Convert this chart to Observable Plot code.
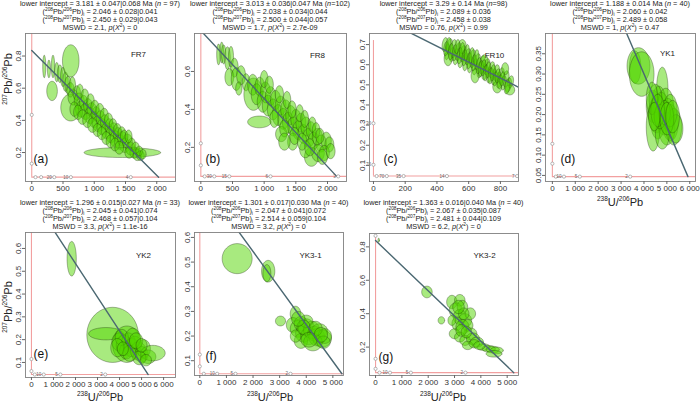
<!DOCTYPE html>
<html><head><meta charset="utf-8">
<script src="https://cdn.jsdelivr.net/npm/d3@7"></script>
<script src="https://cdn.jsdelivr.net/npm/@observablehq/plot@0.6"></script>
<style>
body{margin:0;background:#fff;}
#root{position:relative;width:700px;height:404px;overflow:hidden;font-family:"Liberation Sans",Arial,sans-serif;color:#222;}
.hdr{position:absolute;width:220px;text-align:center;font-size:7.3px;line-height:8.1px;white-space:nowrap;}
.hdr sup,.hdr sub{font-size:4.8px;line-height:0;}
.pl{position:absolute;}
.ttl{position:absolute;font-size:11px;white-space:nowrap;text-align:center;width:100px;}
.ttl sup{font-size:6.5px;line-height:0;}
.yt{transform:rotate(-90deg);}
</style></head><body><div id="root"></div>
<script>
// ---------- data ----------
const panelNames = ["FR7","FR8","FR10","YK1","YK2","YK3-1","YK3-2"];
const panelTags = ["(a)","(b)","(c)","(d)","(e)","(f)","(g)"];
const interceptText = ["3.181 ± 0.047|0.068","3.013 ± 0.036|0.047","3.29 ± 0.14","1.188 ± 0.014","1.296 ± 0.015|0.027","1.301 ± 0.017|0.030","1.363 ± 0.016|0.040"];
const nText = ["n = 97","n=102","n=98","n = 40","n = 33","n = 40","n = 40"];
const r86Text = ["2.046 ± 0.028|0.041","2.038 ± 0.034|0.044","2.089 ± 0.036","2.060 ± 0.042","2.045 ± 0.041|0.074","2.047 ± 0.041|0.072","2.067 ± 0.035|0.087"];
const r87Text = ["2.450 ± 0.029|0.043","2.500 ± 0.044|0.057","2.458 ± 0.038","2.489 ± 0.058","2.468 ± 0.057|0.104","2.514 ± 0.059|0.104","2.481 ± 0.044|0.109"];
const mswdText = ["2.1","1.7","0.76","1","3.3","3.2","6.2"];
const pText = ["0","2.7e-09","0.99","0.47","1.1e-16","0","0"];

const xDomains = [[-100,2300],[-100,2300],[-25,914],[-300,6250],[-270,6540],[-200,5400],[-230,5430]];
const yDomains = [[0.02,0.94],[0.02,0.80],[0.02,0.755],[0.035,0.40],[0.034,0.67],[0.04,0.62],[0.03,0.88]];
const xTicks = [[0,500,1000,1500,2000],[0,500,1000,1500,2000],[0,200,400,600,800],[0,1000,2000,3000,4000,5000,6000],[0,1000,2000,3000,4000,5000,6000],[0,1000,2000,3000,4000,5000],[0,1000,2000,3000,4000,5000]];
const yTicks = [[0.2,0.4,0.6,0.8],[0.2,0.4,0.6],[0.1,0.2,0.3,0.4,0.5,0.6,0.7],[0.05,0.10,0.15,0.20,0.25,0.30,0.35],[0.1,0.2,0.3,0.4,0.5,0.6],[0.1,0.2,0.3,0.4,0.5,0.6],[0.2,0.4,0.6,0.8]];

// regression line: y at x = 0 (upper intercept) and x at the concordia (lower intercept)
const upperIntercept = [0.835,0.815,0.850,0.828,0.829,0.840,0.838];
const lowerInterceptX = [2030,2145,2030,5920,5300,5340,5250];
// concordia (red) lines
const concordiaY = [0.047,0.047,0.047,0.047,0.047,0.047,0.047];
const concordiaTop = [0.94,0.80,0.72,0.40,0.67,0.62,0.866];
// age markers on concordia: [x, y, label]
const markersA = [[1584,0.047,"4"],[626,0.047,"10"],[360,0.047,"20"],[150,0.047,""],[60,0.047,""],[0,0.434,""],[0,0.131,""]];
const markersB = [[2169,0.047,"3"],[1100,0.047,"6"],[450,0.047,"15"],[212,0.047,"30"],[60,0.047,""],[0,0.221,""],[0,0.105,""]];
const markersC = [[905,0.047,"7"],[463,0.047,"14"],[190,0.047,"35"],[84,0.047,"70"],[20,0.047,""],[0,0.309,"30"],[0,0.103,"70"]];
const markersD = [[3398,0.047,"2"],[1200,0.047,"5"],[506,0.047,"10"],[150,0.047,""],[0,0.128,""],[0,0.079,""]];
const markersE = [[3352,0.047,"2"],[1314,0.047,"5"],[559,0.047,"10"],[150,0.047,""],[0,0.115,""],[0,0.062,""]];
const markersF = [[3408,0.047,"2"],[1340,0.047,"5"],[652,0.047,"10"],[150,0.047,""],[0,0.125,""],[0,0.077,""]];
const markersG = [[3416,0.047,"2"],[1342,0.047,"5"],[549,0.047,"10"],[150,0.047,""],[0,0.866,""],[0,0.13,""],[0,0.07,""]];

// error ellipses: [x, y, half-width x, half-height y, correlation]
const ellA = [
[200,0.735,25,0.070,0],[275,0.720,25,0.055,0],[340,0.735,27,0.070,0],[400,0.700,35,0.060,0],[450,0.690,40,0.055,0],
[500,0.670,40,0.060,0],[540,0.640,45,0.060,0],[580,0.620,50,0.055,0],[624,0.770,133,0.100,0],[325,0.583,85,0.060,0],
[624,0.480,160,0.084,0],
[620,0.590,60,0.045,0],[660,0.545,80,0.050,0],[720,0.570,60,0.045,0],[760,0.520,80,0.050,0],
[790,0.470,90,0.050,0],[830,0.510,70,0.045,0],[860,0.455,90,0.050,0],[900,0.490,70,0.045,0],[930,0.430,90,0.050,0],
[960,0.465,75,0.045,0],[1000,0.405,85,0.050,0],[1030,0.440,70,0.045,0],[1060,0.380,90,0.050,0],[1100,0.415,70,0.045,0],
[1130,0.360,85,0.050,0],[1170,0.390,70,0.045,0],[1200,0.335,90,0.050,0],[1240,0.365,70,0.045,0],[1270,0.310,85,0.050,0],
[1310,0.340,75,0.045,0],[1340,0.285,90,0.050,0],[1380,0.310,75,0.045,0],[1410,0.265,85,0.045,0],[1450,0.285,80,0.045,0],
[1490,0.245,85,0.045,0],[1530,0.270,80,0.045,0],[1450,0.200,613,0.031,0],[1580,0.225,75,0.040,0],[1640,0.200,70,0.035,0],
[1690,0.185,70,0.035,0],[1740,0.180,60,0.030,0],[1600,0.250,60,0.040,0],
[650,0.620,50,0.050,0],[680,0.470,70,0.045,0],[740,0.450,70,0.045,0],[770,0.580,55,0.045,0],[810,0.420,75,0.045,0],
[850,0.550,60,0.045,0],[890,0.400,75,0.045,0],[940,0.520,60,0.045,0],[970,0.370,75,0.045,0],[1010,0.480,65,0.045,0],
[1050,0.340,70,0.040,0],[1090,0.460,65,0.045,0],[1120,0.320,70,0.040,0],[1160,0.430,65,0.045,0],[1190,0.290,70,0.040,0],
[1230,0.400,65,0.045,0],[1260,0.270,70,0.040,0],[1300,0.370,60,0.040,0],[1330,0.250,70,0.040,0],[1370,0.340,60,0.040,0],
[1400,0.230,70,0.040,0],[1440,0.320,60,0.040,0],[1480,0.300,60,0.040,0],[1550,0.300,55,0.040,0],[1560,0.200,70,0.035,0],
[1660,0.230,60,0.035,0],[1720,0.210,55,0.030,0],[1780,0.190,50,0.030,0]];
const ellB = [
[280,0.690,30,0.055,0],[330,0.700,30,0.055,0],[360,0.690,35,0.050,0],[420,0.670,45,0.060,0],[476,0.677,40,0.055,0],
[530,0.620,60,0.050,0],[450,0.570,70,0.045,0],[560,0.560,80,0.060,0],[635,0.580,70,0.050,0],[714,0.543,60,0.045,0],
[600,0.510,50,0.035,0],[830,0.480,150,0.085,0],[924,0.334,185,0.031,0],
[820,0.530,80,0.055,0],[880,0.480,85,0.055,0],[930,0.520,75,0.050,0],[980,0.440,90,0.055,0],[1020,0.490,80,0.055,0],
[1060,0.420,90,0.055,0],[1100,0.470,80,0.050,0],[1140,0.400,90,0.055,0],[1180,0.450,80,0.050,0],[1220,0.370,90,0.055,0],
[1260,0.420,85,0.050,0],[1300,0.350,90,0.055,0],[1340,0.400,80,0.050,0],[1380,0.330,90,0.055,0],[1420,0.370,80,0.050,0],
[1460,0.310,90,0.050,0],[1500,0.350,80,0.050,0],[1540,0.290,90,0.050,0],[1580,0.330,80,0.050,0],[1620,0.270,90,0.050,0],
[1660,0.310,80,0.050,0],[1700,0.250,90,0.050,0],[1740,0.290,75,0.045,0],[1780,0.235,85,0.045,0],[1840,0.255,80,0.045,0],
[1900,0.220,85,0.045,0],[1980,0.235,80,0.045,0],[2030,0.215,70,0.040,0],
[1270,0.270,90,0.040,0],[1450,0.230,80,0.045,0],[1746,0.150,110,0.050,0],[1850,0.170,100,0.045,0],[1650,0.190,90,0.045,0],
[1950,0.170,80,0.040,0],
[1000,0.560,60,0.045,0],[1080,0.530,65,0.045,0],[1160,0.350,70,0.045,0],[1240,0.480,65,0.045,0],[1320,0.300,75,0.045,0],
[1360,0.450,60,0.045,0],[1440,0.400,65,0.045,0],[1480,0.260,75,0.045,0],[1560,0.380,60,0.045,0],[1600,0.230,75,0.045,0],
[1640,0.350,60,0.045,0],[1720,0.200,80,0.045,0],[1760,0.320,60,0.040,0],[1820,0.290,60,0.040,0],[1880,0.260,65,0.040,0],
[1920,0.150,80,0.040,0],[2050,0.180,70,0.040,0],[1320,0.230,90,0.045,0]];
const ellC = [
[450,0.700,18,0.035,0.3],[465,0.665,16,0.040,0.3],[480,0.690,18,0.040,0.3],[495,0.650,16,0.035,0.3],[505,0.680,20,0.045,0.3],
[520,0.640,18,0.040,0.3],[535,0.665,20,0.045,0.3],[550,0.625,18,0.040,0.3],[565,0.655,20,0.040,0.3],[580,0.615,18,0.045,0.3],
[595,0.640,20,0.040,0.3],[610,0.600,18,0.040,0.3],[625,0.630,20,0.045,0.3],[640,0.590,18,0.040,0.3],[655,0.615,20,0.040,0.3],
[670,0.575,18,0.040,0.3],[685,0.600,20,0.045,0.3],[700,0.565,18,0.040,0.3],[715,0.590,20,0.040,0.3],[730,0.550,18,0.040,0.3],
[745,0.575,20,0.040,0.3],[760,0.540,18,0.040,0.3],[775,0.560,20,0.040,0.3],[790,0.525,18,0.040,0.3],[805,0.545,20,0.040,0.3],
[820,0.510,18,0.035,0.3],[835,0.530,20,0.040,0.3],[850,0.500,20,0.035,0.3],[865,0.515,18,0.030,0.3],
[470,0.630,25,0.035,0],[560,0.690,25,0.035,0],[640,0.545,25,0.035,0],[700,0.620,22,0.030,0],[780,0.490,28,0.030,0],
[860,0.475,30,0.025,0],[830,0.580,22,0.030,0],
[458,0.680,16,0.035,0.3],[472,0.700,16,0.035,0.3],[488,0.665,16,0.040,0.3],[512,0.660,16,0.040,0.3],[528,0.690,16,0.035,0.3],
[543,0.645,16,0.040,0.3],[558,0.670,16,0.040,0.3],[573,0.635,16,0.040,0.3],[588,0.660,16,0.040,0.3],[603,0.620,16,0.040,0.3],
[618,0.645,16,0.040,0.3],[633,0.610,16,0.040,0.3],[648,0.635,16,0.040,0.3],[663,0.595,16,0.040,0.3],[678,0.580,16,0.040,0.3],
[693,0.585,16,0.040,0.3],[708,0.560,16,0.040,0.3],[723,0.575,16,0.040,0.3],[738,0.545,16,0.040,0.3],[753,0.560,16,0.040,0.3],
[768,0.530,16,0.035,0.3],[783,0.545,16,0.035,0.3],[798,0.515,16,0.035,0.3],[812,0.530,16,0.035,0.3],[842,0.490,18,0.035,0.3]];
const ellD = [
[3615,0.317,250,0.040,0],[3760,0.320,500,0.045,0],[3900,0.300,540,0.055,0],[4800,0.262,250,0.055,0],
[4400,0.220,300,0.040,0],[4550,0.200,350,0.045,0],[4650,0.230,300,0.040,0],[4750,0.210,350,0.045,0],[4850,0.190,300,0.040,0],
[4950,0.220,350,0.045,0],[5050,0.200,300,0.040,0],[5150,0.180,350,0.045,0],[4600,0.180,300,0.040,0],[4500,0.240,280,0.035,0],
[5000,0.165,350,0.040,0],[5300,0.170,350,0.045,0],[5400,0.165,300,0.035,0],[4400,0.170,300,0.060,0],[4350,0.240,250,0.040,0],
[4800,0.150,300,0.035,0],[5150,0.210,300,0.040,0],[4700,0.195,250,0.030,0],[4900,0.205,250,0.030,0],
[4600,0.210,300,0.040,0],[5000,0.190,300,0.040,0],[4450,0.195,250,0.035,0],[5250,0.195,300,0.040,0]];
const ellE = [
[1827,0.555,210,0.076,0],[3684,0.221,1170,0.121,0],[3382,0.226,785,0.027,0],[4334,0.180,650,0.080,0],
[4000,0.190,350,0.040,0],[4200,0.175,350,0.045,0],[4400,0.190,300,0.040,0],[4550,0.165,350,0.040,0],[4700,0.180,300,0.035,0],
[4300,0.150,300,0.035,0],[4850,0.150,350,0.040,0],[5000,0.135,300,0.035,0],[5100,0.160,300,0.040,0],[5300,0.125,350,0.030,0],
[5512,0.141,560,0.034,0],[4100,0.210,300,0.035,0],[4600,0.205,350,0.045,0],[3900,0.165,300,0.040,0],[4900,0.120,300,0.030,0],
[5200,0.110,250,0.025,0],[4450,0.140,300,0.035,0],[4750,0.195,300,0.035,0],[4150,0.160,250,0.030,0],[5000,0.175,250,0.030,0]];
const ellF = [
[1403,0.514,564,0.061,0],[2569,0.463,250,0.044,0],[2520,0.455,150,0.035,0],[3032,0.261,190,0.020,0],[3596,0.290,200,0.031,0],
[3500,0.245,250,0.030,0],[3700,0.230,300,0.035,0],[3800,0.250,250,0.030,0],[3900,0.210,300,0.035,0],[4000,0.235,300,0.035,0],
[4100,0.200,300,0.035,0],[4200,0.225,300,0.035,0],[4300,0.210,250,0.030,0],[4400,0.195,300,0.035,0],[4500,0.220,300,0.030,0],
[4600,0.190,350,0.035,0],[4700,0.200,250,0.030,0],[3800,0.180,250,0.030,0],[4250,0.175,350,0.035,0],[3600,0.200,200,0.025,0],
[4000,0.260,250,0.025,0],[4650,0.175,250,0.025,0],
[3900,0.235,250,0.030,0],[4350,0.230,250,0.030,0],[4100,0.185,300,0.030,0],[4550,0.205,250,0.030,0],[3700,0.270,250,0.030,0]];
const ellG = [
[120,0.840,30,0.012,0],[1952,0.530,200,0.035,0],[2500,0.360,125,0.022,0],
[2900,0.470,200,0.040,0],[3200,0.480,200,0.035,0],[3050,0.420,250,0.045,0],[3300,0.440,200,0.040,0],[3200,0.380,250,0.045,0],
[3400,0.360,250,0.040,0],[3100,0.340,200,0.040,0],[3300,0.320,250,0.045,0],[3500,0.330,200,0.035,0],[3000,0.280,200,0.030,0],
[3200,0.260,200,0.030,0],[3600,0.280,250,0.035,0],[3400,0.240,200,0.030,0],[3700,0.250,250,0.035,0],[3850,0.230,250,0.030,0],
[3500,0.210,200,0.025,0],[2900,0.360,150,0.030,0],[3600,0.400,200,0.035,0],
[4100,0.200,250,0.020,0],[4300,0.190,250,0.020,0],[4450,0.185,250,0.020,0],[4600,0.180,250,0.020,0],[4500,0.160,300,0.020,0],
[3250,0.300,200,0.035,0],[3450,0.290,200,0.035,0],[3350,0.400,200,0.035,0],[3150,0.440,220,0.040,0],[3750,0.220,200,0.025,0],
[3950,0.210,220,0.025,0]];

const ellipses = [ellA,ellB,ellC,ellD,ellE,ellF,ellG];
const markers = [markersA,markersB,markersC,markersD,markersE,markersF,markersG];

// ---------- layout ----------
const frames = [[25,33,150,148],[194,33,152,148],[369,33,149,148],[545,33,150,148],[25,232,150,145],[194,232,149,143],[369,233,149,142]];
const namePos = [[113,18],[123,19],[125,19],[122,17],[118,20],[116,20],[115,19]];
const tagPos = [[8,-18.5],[11,-18.5],[14,-18.5],[15,-19],[8,-20],[11,-16],[9,-15]];

const root = document.getElementById("root");
const mL = 22, mR = 1, mT = 1, mB = 18;
const fmtX = v => d3.format(",")(v).replace(/,/g, " ");

function ellipseRows(list, key) {
  const rows = [];
  list.forEach((e, i) => {
    const [cx, cy, rx, ry, rho] = e;
    const s = Math.sqrt(1 - rho * rho);
    for (let k = 0; k < 48; k++) {
      const t = 2 * Math.PI * k / 48;
      rows.push({id: key + "-" + i, x: cx + rx * Math.cos(t), y: cy + ry * (rho * Math.cos(t) + s * Math.sin(t))});
    }
  });
  return rows;
}

for (let p = 0; p < 7; p++) {
  const [L, T, W, H] = frames[p];
  const xd = xDomains[p], yd = yDomains[p];
  const reg = [{x: 0, y: upperIntercept[p]}, {x: lowerInterceptX[p], y: concordiaY[p]}];
  const mk = markers[p].map(([x, y, t]) => ({x, y, t}));
  const yFmt = p === 3 ? d3.format(".2f") : d3.format(".1f");
  const chart = Plot.plot({
    width: W + mL + mR, height: H + mT + mB,
    marginLeft: mL, marginRight: mR, marginTop: mT, marginBottom: mB,
    x: {domain: xd, label: null}, y: {domain: yd, label: null},
    style: {fontFamily: "Liberation Sans, Arial, sans-serif", fontSize: "8px", color: "#333", background: "transparent", overflow: "visible"},
    marks: [
      Plot.ruleX([0], {y1: concordiaY[p], y2: concordiaTop[p], stroke: "#f2a0a0", strokeWidth: 1.1, clip: true}),
      Plot.ruleY([concordiaY[p]], {x1: 0, x2: xd[1], stroke: "#f2a0a0", strokeWidth: 1.1, clip: true}),
      Plot.line(ellipseRows(ellipses[p], "e" + p), {x: "x", y: "y", z: "id", curve: "linear-closed", fill: "#52d600", fillOpacity: 0.5, stroke: "#1c2a0c", strokeWidth: 0.45, strokeOpacity: 0.75, clip: true}),
      Plot.line(reg, {x: "x", y: "y", stroke: "#4b6872", strokeWidth: 1.4, clip: true}),
      Plot.dot(mk, {x: "x", y: "y", r: 1.6, stroke: "#888", strokeWidth: 0.6, fill: "white", clip: true}),
      Plot.text(mk, {x: "x", y: "y", text: "t", dx: -2.5, textAnchor: "end", fontSize: 4.5, fill: "#666"}),
      Plot.frame({stroke: "#808080", strokeWidth: 0.9}),
      Plot.axisX({ticks: xTicks[p], tickFormat: fmtX, tickSize: 3, tickPadding: 0.5, fontSize: 8, stroke: "#666", label: null}),
      Plot.axisY({ticks: yTicks[p], tickFormat: yFmt, tickSize: 3, tickPadding: 1.5, tickRotate: -90, fontSize: 8, stroke: "#666", label: null}),
      Plot.text([panelNames[p]], {frameAnchor: "top-left", dx: namePos[p][0], dy: namePos[p][1], textAnchor: "middle", fontSize: 8, fill: "#222"}),
      Plot.text([panelTags[p]], {frameAnchor: "bottom-left", dx: tagPos[p][0], dy: tagPos[p][1], textAnchor: "start", fontSize: 12, fill: "#111"})
    ]
  });
  chart.classList.add("pl");
  chart.style.left = (L - mL) + "px";
  chart.style.top = (T - mT) + "px";
  root.appendChild(chart);

  const hdr = document.createElement("div");
  hdr.className = "hdr";
  hdr.style.left = (L + W / 2 - 110) + "px";
  hdr.style.top = (p < 4 ? 0 : 199) + "px";
  hdr.innerHTML =
    `lower intercept = ${interceptText[p]} Ma (<i>${nText[p].slice(0,1)}</i>${nText[p].slice(1)})<br>` +
    `(<sup>208</sup>Pb/<sup>206</sup>Pb)<sub>i</sub> = ${r86Text[p]}<br>` +
    `(<sup>208</sup>Pb/<sup>207</sup>Pb)<sub>i</sub> = ${r87Text[p]}<br>` +
    `MSWD = ${mswdText[p]}, <i>p</i>(<i>X</i><sup>2</sup>) = ${pText[p]}`;
  root.appendChild(hdr);
}

// axis titles
function title(html, cx, cy, rot) {
  const d = document.createElement("div");
  d.className = "ttl" + (rot ? " yt" : "");
  d.innerHTML = html;
  d.style.left = (cx - 50) + "px";
  d.style.top = (cy - 7) + "px";
  root.appendChild(d);
}
const yTitle = "<sup>207</sup>Pb/<sup>206</sup>Pb";
const xTitle = "<sup>238</sup>U/<sup>206</sup>Pb";
title(yTitle, 8, 80, true);
title(yTitle, 8, 308, true);
title(xTitle, 620, 203, false);
title(xTitle, 100, 398, false);
title(xTitle, 270, 398, false);
title(xTitle, 443, 398, false);
</script></body></html>
